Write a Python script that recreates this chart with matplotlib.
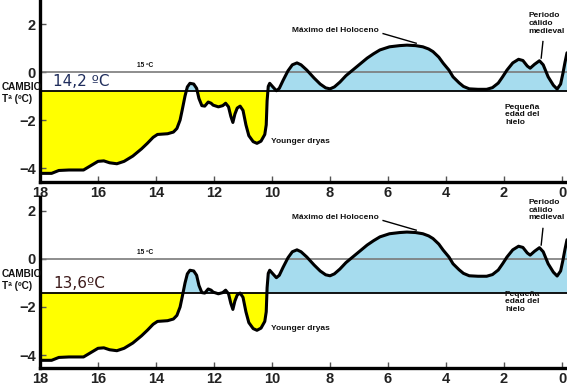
import matplotlib.pyplot as plt
from matplotlib.transforms import blended_transform_factory

# thousands of years before present
years = [18.0, 17.6, 17.35, 17.0, 16.5, 16.25, 16.0, 15.8, 15.6, 15.35, 15.1, 14.8,
         14.5, 14.3, 14.1, 13.95, 13.6, 13.4, 13.28, 13.17, 13.1, 13.0, 12.92, 12.83,
         12.7, 12.6, 12.52, 12.42, 12.32, 12.2, 12.1, 12.03, 11.85, 11.7, 11.6, 11.5,
         11.42, 11.35, 11.28, 11.2, 11.1, 11.0, 10.9, 10.8, 10.65, 10.52, 10.38, 10.25,
         10.2, 10.17, 10.13, 10.08, 10.0, 9.85, 9.75, 9.62, 9.45, 9.3, 9.14, 9.0,
         8.8, 8.55, 8.34, 8.15, 8.0, 7.85, 7.66, 7.45, 7.2, 6.95, 6.72, 6.5,
         6.28, 5.95, 5.6, 5.35, 5.05, 4.8, 4.6, 4.45, 4.25, 4.1, 3.9, 3.76,
         3.55, 3.4, 3.2, 2.9, 2.6, 2.4, 2.2, 2.05, 1.9, 1.7, 1.5, 1.35,
         1.2, 1.1, 0.95, 0.78, 0.65, 0.48, 0.3, 0.17, 0.05, -0.03, -0.1, -0.17]
# temperature change vs 15 ºC
temp = [-4.22, -4.22, -4.1, -4.08, -4.08, -3.9, -3.72, -3.7, -3.78, -3.82, -3.72, -3.5,
        -3.2, -2.97, -2.72, -2.6, -2.57, -2.5, -2.35, -2.0, -1.6, -1.0, -0.62, -0.47,
        -0.5, -0.68, -1.1, -1.4, -1.42, -1.25, -1.3, -1.38, -1.45, -1.4, -1.3, -1.45,
        -1.85, -2.1, -1.75, -1.5, -1.42, -1.6, -2.2, -2.65, -2.9, -2.97, -2.88, -2.6,
        -2.2, -1.2, -0.6, -0.47, -0.58, -0.78, -0.68, -0.35, 0.05, 0.3, 0.38, 0.3,
        0.08, -0.25, -0.5, -0.66, -0.7, -0.62, -0.42, -0.15, 0.1, 0.35, 0.58, 0.76,
        0.92, 1.05, 1.1, 1.12, 1.1, 1.05, 0.96, 0.85, 0.62, 0.37, 0.08, -0.2,
        -0.45, -0.6, -0.7, -0.72, -0.72, -0.65, -0.46, -0.2, 0.08, 0.38, 0.53, 0.48,
        0.25, 0.16, 0.32, 0.47, 0.3, -0.2, -0.55, -0.71, -0.5, -0.05, 0.4, 0.8]

thresholds = [-0.8, -1.4]
threshold_labels = ["14,2 ºC", "13,6ºC"]
threshold_colors = ["#1f2d5c", "#3d1a1a"]
xticks = [18, 16, 14, 12, 10, 8, 6, 4, 2, 0]
yticks = [2, 0, -2, -4]

W, H = 567, 386
yellow = "#ffff00"
blue = "#a6dcee"


def draw_panel(fig, rect, ylim, thr, label, label_color):
    ax = fig.add_axes(rect)
    ax.set_xlim(18, -0.17)
    ax.set_ylim(*ylim)

    ax.fill_between(years, temp, thr, where=[t < thr for t in temp],
                    interpolate=True, color=yellow, lw=0)
    ax.fill_between(years, temp, thr, where=[t > thr for t in temp],
                    interpolate=True, color=blue, lw=0)
    ax.axhline(0, color="#7a7a7a", lw=1.2)
    ax.axhline(thr, color="black", lw=1.3)
    ax.plot(years, temp, color="black", lw=2.2, solid_capstyle="round")

    for s in ["top", "right"]:
        ax.spines[s].set_visible(False)
    for s in ["left", "bottom"]:
        ax.spines[s].set_linewidth(2.4)
    ax.set_xticks(xticks)
    ax.set_yticks(yticks)
    ax.set_yticklabels(["2", "0", "\u22122", "\u22124"])
    ax.tick_params(direction="in", length=4, width=1, color="#555555", pad=3)
    for t in ax.get_xticklabels() + ax.get_yticklabels():
        t.set_fontweight("bold")
        t.set_fontfamily("Liberation Sans")
        t.set_fontsize(10.5)
        t.set_color("#222222")

    bold = dict(fontfamily="Liberation Sans", fontweight="bold", color="#111111")
    ax.text(14.38, 0.12, "15 ºC", fontsize=4.8, ha="center", va="bottom", **bold)
    ax.text(17.55, thr + 0.08, label, fontsize=11, color=label_color,
            ha="left", va="bottom", fontfamily="DejaVu Sans")
    ax.text(9.31, 1.71, "Máximo del Holoceno", fontsize=6, ha="left", va="center", **bold)
    ax.plot([6.17, 5.03], [1.6, 1.2], color="black", lw=1)
    ax.text(1.17, 2.5, "Periodo\ncálido\nmedieval", fontsize=6, ha="left", va="top",
            linespacing=1.15, **bold)
    ax.plot([0.66, 0.72], [1.27, 0.58], color="black", lw=1)
    ax.text(1.97, -1.32, "Pequeña\nedad del\nhielo", fontsize=6, ha="left", va="top",
            linespacing=1.15, **bold)
    ax.text(10.05, -2.88, "Younger dryas", fontsize=6, ha="left", va="center", **bold)

    trans = blended_transform_factory(ax.transAxes, ax.transData)
    ax.text(-0.072, -0.42, "CAMBIO\nTª (ºC)", transform=trans, fontsize=7.2,
            ha="left", va="top", linespacing=1.25, clip_on=False, zorder=5, **bold)
    return ax


if __name__ == "__main__":
    fig = plt.figure(figsize=(W / 100, H / 100), dpi=100)

    left, width = 40 / W, 527 / W
    rects = [[left, 1 - 182 / H, width, 182 / H],
             [left, 1 - 368 / H, width, 171 / H]]
    ylims = [(-4.58, 3.0), (-4.54, 2.58)]

    for i in range(2):
        draw_panel(fig, rects[i], ylims[i], thresholds[i], threshold_labels[i],
                   threshold_colors[i])

    fig.savefig("out.png", dpi=100)
